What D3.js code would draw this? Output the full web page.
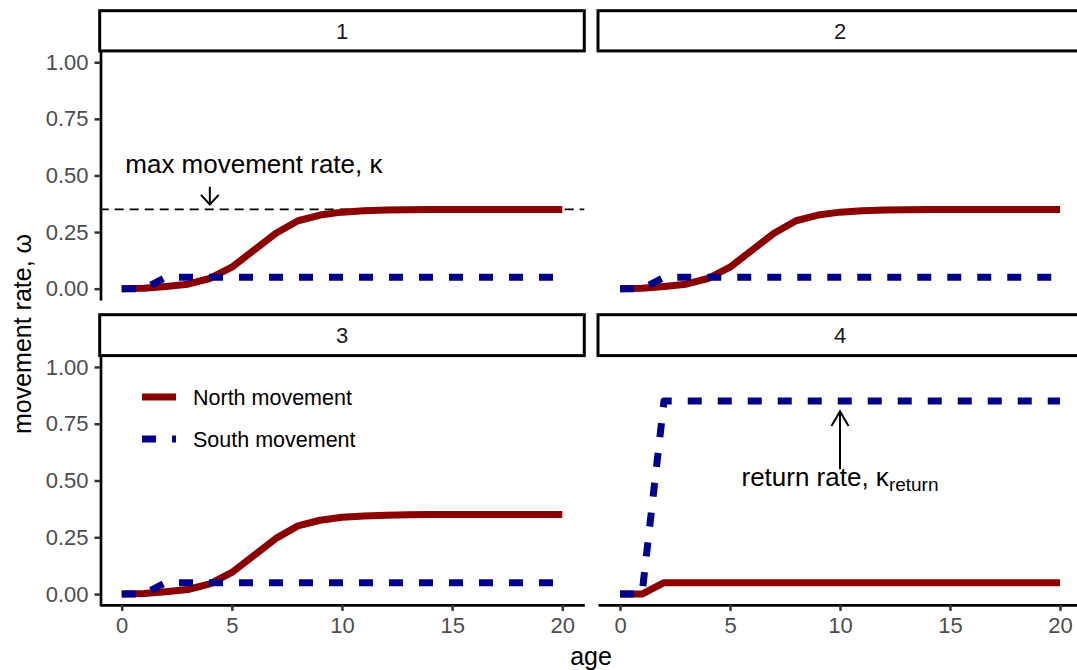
<!DOCTYPE html>
<html>
<head>
<meta charset="utf-8">
<script src="https://cdn.jsdelivr.net/npm/d3@7"></script>
<style>
  body { margin: 0; background: #fff; }
  svg text { font-family: "Liberation Sans", Arial, sans-serif; }
</style>
</head>
<body>
<div id="chart"></div>
<script>
// Data
const ages = [0, 1, 2, 3, 4, 5, 6, 7, 8, 9, 10, 11, 12, 13, 14, 15, 16, 17, 18, 19, 20];
const northBase = [0, 0.002, 0.01, 0.02, 0.045, 0.095, 0.17, 0.245, 0.3, 0.325, 0.338, 0.344, 0.347, 0.349, 0.35, 0.35, 0.35, 0.35, 0.35, 0.35, 0.35];
const southBase = [0, 0, 0.05, 0.05, 0.05, 0.05, 0.05, 0.05, 0.05, 0.05, 0.05, 0.05, 0.05, 0.05, 0.05, 0.05, 0.05, 0.05, 0.05, 0.05, 0.05];
const northReturn = [0, 0, 0.05, 0.05, 0.05, 0.05, 0.05, 0.05, 0.05, 0.05, 0.05, 0.05, 0.05, 0.05, 0.05, 0.05, 0.05, 0.05, 0.05, 0.05, 0.05];
const southReturn = [0, 0, 0.85, 0.85, 0.85, 0.85, 0.85, 0.85, 0.85, 0.85, 0.85, 0.85, 0.85, 0.85, 0.85, 0.85, 0.85, 0.85, 0.85, 0.85, 0.85];

const panelIds = ["1", "2", "3", "4"];
const panelNorth = [northBase, northBase, northBase, northReturn];
const panelSouth = [southBase, southBase, southBase, southReturn];

const xTicks = [0, 5, 10, 15, 20];
const yTicks = [0, 0.25, 0.5, 0.75, 1];
const seriesNames = ["North movement", "South movement"];
const kappaLevel = 0.35;

const width = 1077, height = 670;
const red = "#8B0000", navy = "#00008B";

const svg = d3.select("#chart").append("svg")
    .attr("width", width)
    .attr("height", height);

// panel layout (facet grid 2 x 2)
const cols = [[99.7, 584.3], [598, 1082]];
const rows = [{ strip: 10.7, top: 50.9, bottom: 300 }, { strip: 314.7, top: 355.6, bottom: 605.4 }];

const line = (x, y, vals) => d3.line()
    .x((d, i) => x(ages[i]))
    .y(d => y(d))(vals);

function arrowHead(g, tx, ty, dirY, len, ang) {
    const a = ang * Math.PI / 180;
    const dx = Math.sin(a) * len, dy = Math.cos(a) * len * dirY;
    g.append("path")
        .attr("d", `M${tx - dx},${ty - dy}L${tx},${ty}L${tx + dx},${ty - dy}`)
        .attr("fill", "none")
        .attr("stroke", "#000")
        .attr("stroke-width", 2)
        .attr("stroke-linejoin", "miter");
}

panelIds.forEach((id, p) => {
    const c = cols[p % 2], r = rows[Math.floor(p / 2)];
    const x = d3.scaleLinear().domain([-1, 21]).range(c);
    const y = d3.scaleLinear().domain([-0.05, 1.05]).range([r.bottom, r.top]);
    const g = svg.append("g");

    // strip
    g.append("rect")
        .attr("x", c[0]).attr("y", r.strip)
        .attr("width", c[1] - c[0]).attr("height", r.top - r.strip)
        .attr("fill", "#fff").attr("stroke", "#000").attr("stroke-width", 3);
    g.append("text")
        .attr("x", (c[0] + c[1]) / 2).attr("y", (r.strip + r.top) / 2)
        .attr("dy", "0.35em")
        .attr("text-anchor", "middle")
        .style("font-size", "22px").style("fill", "#1a1a1a")
        .text(id);

    if (p === 0) {
        g.append("line")
            .attr("x1", c[0]).attr("x2", c[1])
            .attr("y1", y(kappaLevel)).attr("y2", y(kappaLevel))
            .attr("stroke", "#000").attr("stroke-width", 1.7)
            .attr("stroke-dasharray", "9,6");
    }

    g.append("path")
        .attr("d", line(x, y, panelNorth[p]))
        .attr("fill", "none").attr("stroke", red)
        .attr("stroke-width", 7).attr("stroke-linejoin", "round");
    g.append("path")
        .attr("d", line(x, y, panelSouth[p]))
        .attr("fill", "none").attr("stroke", navy)
        .attr("stroke-width", 7).attr("stroke-linejoin", "round")
        .attr("stroke-dasharray", "14,16");

    // axes
    if (p % 2 === 0) {
        const ay = g.append("g")
            .attr("transform", `translate(${c[0] + 0.8},0)`)
            .call(d3.axisLeft(y).tickValues(yTicks).tickFormat(d3.format(".2f"))
                .tickSize(6).tickSizeOuter(0).tickPadding(6));
        styleAxis(ay);
    }
    if (p >= 2) {
        const ax = g.append("g")
            .attr("transform", `translate(0,${r.bottom - 0.5})`)
            .call(d3.axisBottom(x).tickValues(xTicks).tickFormat(d3.format("d"))
                .tickSize(6).tickSizeOuter(0).tickPadding(6));
        styleAxis(ax);
    }

    // annotations
    if (p === 0) {
        g.append("text")
            .attr("x", x(6)).attr("y", y(0.55)).attr("dy", "0.35em")
            .attr("text-anchor", "middle")
            .style("font-size", "26px").style("fill", "#000")
            .text("max movement rate, \u03BA");
        g.append("line")
            .attr("x1", x(4)).attr("x2", x(4))
            .attr("y1", y(0.45)).attr("y2", y(0.372))
            .attr("stroke", "#000").attr("stroke-width", 2);
        arrowHead(g, x(4), y(0.372), 1, 13, 43);
    }
    if (p === 3) {
        const t = g.append("text")
            .attr("x", x(10)).attr("y", y(0.515)).attr("dy", "0.35em")
            .attr("text-anchor", "middle")
            .style("font-size", "26px").style("fill", "#000");
        t.append("tspan").text("return rate, \u03BA");
        t.append("tspan").attr("dy", 5).style("font-size", "19px").text("return");
        g.append("line")
            .attr("x1", x(10)).attr("x2", x(10))
            .attr("y1", y(0.55)).attr("y2", y(0.805))
            .attr("stroke", "#000").attr("stroke-width", 2);
        arrowHead(g, x(10), y(0.805), -1, 17, 30);
    }

    // legend inside panel 3
    if (p === 2) {
        const leg = g.append("g");
        const keyY = [397, 439];
        seriesNames.forEach((name, i) => {
            leg.append("line")
                .attr("x1", 142).attr("x2", 176)
                .attr("y1", keyY[i]).attr("y2", keyY[i])
                .attr("stroke", i === 0 ? red : navy)
                .attr("stroke-width", 7)
                .attr("stroke-dasharray", i === 0 ? null : "14,16");
            leg.append("text")
                .attr("x", 193).attr("y", keyY[i]).attr("dy", "0.35em")
                .style("font-size", "21.5px").style("fill", "#000")
                .text(name);
        });
    }
});

function styleAxis(a) {
    a.select(".domain").attr("stroke", "#000").attr("stroke-width", 2.7);
    a.selectAll(".tick line").attr("stroke", "#333").attr("stroke-width", 2.5);
    a.selectAll(".tick text").style("font-size", "22px").style("fill", "#4d4d4d")
        .attr("font-family", null);
}

// axis titles
svg.append("text")
    .attr("x", 591).attr("y", 665)
    .attr("text-anchor", "middle")
    .style("font-size", "25px").style("fill", "#000")
    .text("age");
svg.append("text")
    .attr("transform", "translate(31,334) rotate(-90)")
    .attr("text-anchor", "middle")
    .style("font-size", "25px").style("fill", "#000")
    .text("movement rate, \u03C9");
</script>
</body>
</html>
